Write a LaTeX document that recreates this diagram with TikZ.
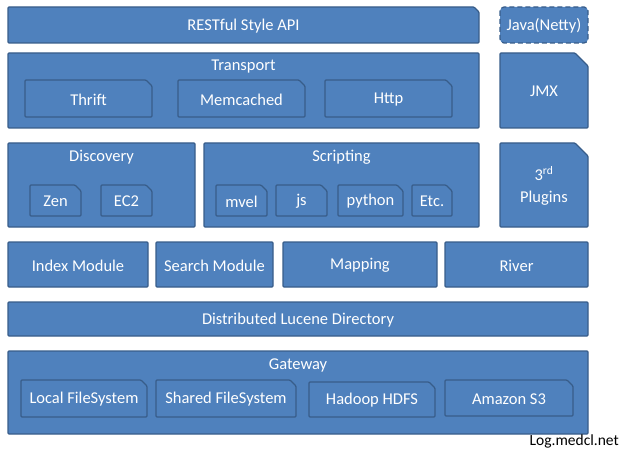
\documentclass[tikz,border=0pt]{standalone}
\usepackage{fontspec}
\setmainfont{Carlito}
\definecolor{boxfill}{HTML}{4F81BD}
\definecolor{boxline}{HTML}{385D8A}
\tikzset{
  shapebox/.style={fill=boxfill,draw=boxline,line width=1.3pt,rounded corners=1pt},
  txt/.style={text=white,font=\fontsize{16.5}{19}\selectfont,inner sep=0pt,align=center},
}
% name, x1, y1, x2, y2, snip, text
\newcommand\snipbox[7]{%
  \draw[shapebox] (#2,#3) -- ({#4-#6},#3) -- (#4,{#3+#6}) -- (#4,#5) -- (#2,#5) -- cycle;
  \node[txt] (#1) at ({(#2+#4)/2},{(#3+#5)/2+1}) {#7};}
% name, x1, y1, x2, y2, text
\newcommand\plainbox[6]{%
  \draw[shapebox] (#2,#3) rectangle (#4,#5);
  \node[txt] (#1) at ({(#2+#4)/2},{(#3+#5)/2+1}) {#6};}
\newcommand\titledbox[6]{% name, x1,y1,x2,y2, title
  \draw[shapebox] (#2,#3) rectangle (#4,#5);
  \node[txt] (#1) at ({(#2+#4)/2},{#3+14}) {#6};}
\begin{document}
\begin{tikzpicture}[x=1pt,y=-1pt]
\useasboundingbox (0,0) rectangle (620,449);
% row 1
\snipbox{rest}{8}{7}{479}{43}{5}{RESTful Style API}
\draw[shapebox,dashed,dash pattern=on 5pt off 3pt,rounded corners=4pt] (500,7) rectangle (588,43);
\node[txt] (java) at (544,26) {Java(Netty)};
% row 2
\titledbox{transport}{8}{53}{479}{128}{Transport}
\snipbox{thrift}{25}{80}{152}{117}{6}{Thrift}
\snipbox{memcached}{178}{80}{305}{117}{6}{Memcached}
\snipbox{http}{325}{80}{452}{117}{6}{Http}
\snipbox{jmx}{500}{53}{588}{128}{13}{JMX}
% row 3
\titledbox{discovery}{8}{143}{195}{227}{Discovery}
\snipbox{zen}{30}{185}{81}{216}{6}{Zen}
\snipbox{ectwo}{101}{185}{152}{216}{6}{EC2}
\titledbox{scripting}{204}{143}{479}{227}{Scripting}
\snipbox{mvel}{216}{185}{267}{216}{6}{mvel}
\snipbox{js}{276}{185}{327}{216}{6}{js}
\snipbox{python}{338}{185}{403}{216}{6}{python}
\snipbox{etc}{412}{185}{452}{216}{6}{Etc.}
\snipbox{plugins}{500}{143}{588}{227}{13}{3\textsuperscript{rd}\\[3pt]Plugins}
% row 4
\plainbox{index}{8}{242}{148}{287}{Index Module}
\plainbox{search}{156}{242}{273}{287}{Search Module}
\plainbox{mapping}{283}{242}{437}{287}{Mapping}
\plainbox{river}{445}{242}{588}{287}{River}
% row 5
\plainbox{lucene}{8}{302}{588}{336}{Distributed Lucene Directory}
% row 6
\titledbox{gateway}{8}{351}{588}{434}{Gateway}
\snipbox{localfs}{21}{380}{147}{417}{6}{Local FileSystem}
\snipbox{sharedfs}{156}{380}{296}{417}{6}{Shared FileSystem}
\snipbox{hdfs}{309}{382}{435}{417}{6}{Hadoop HDFS}
\snipbox{s3}{445}{380}{573}{416}{6}{Amazon S3}
\node[font=\fontsize{15.5}{18}\selectfont,anchor=east,inner sep=0pt] (credit) at (619,441) {Log.medcl.net};
\end{tikzpicture}
\end{document}
